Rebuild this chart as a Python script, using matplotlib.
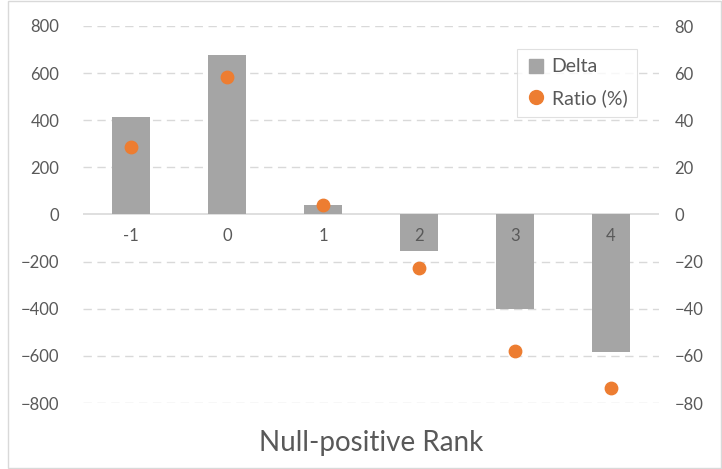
import matplotlib.pyplot as plt
from matplotlib.patches import Rectangle
from matplotlib.lines import Line2D

# data
ranks = ["-1", "0", "1", "2", "3", "4"]
delta = [412, 675, 40, -155, -400, -585]
ratio = [28.5, 58.5, 4.2, -22.9, -58.0, -73.5]

plt.rcParams["font.family"] = ["Lato", "DejaVu Sans"]
text_color = "#595959"
bar_color = "#a5a5a5"
dot_color = "#ed7d31"

fig = plt.figure(figsize=(7.22, 4.69), dpi=100)
ax = fig.add_axes([83 / 722, 1 - 403 / 469, 576 / 722, 377 / 469])
ax2 = ax.twinx()

x = list(range(len(ranks)))

# bars on the left axis
ax.bar(x, delta, width=0.4, color=bar_color, zorder=2)
ax.set_ylim(-800, 800)
ax.set_xlim(-0.5, len(ranks) - 0.5)
ax.set_yticks(range(-800, 801, 200))
for t in range(-800, 801, 200):
    if t == 0:
        ax.axhline(0, color="#d9d9d9", lw=1.2, zorder=1)
    else:
        ax.axhline(t, color="#d9d9d9", lw=1, ls=(0, (6, 4)), zorder=0)
ax.set_xticks([])
ax.tick_params(axis="y", length=0, labelsize=12, labelcolor=text_color, pad=17)
for s in ax.spines.values():
    s.set_visible(False)

# category labels sit just under the zero line
for xi, lab in zip(x, ranks):
    ax.annotate(lab, (xi, 0), xytext=(0, -10), textcoords="offset points",
                ha="center", va="top", fontsize=12, color=text_color, zorder=5)

# dots on the right axis
ax2.scatter(x, ratio, s=80, color=dot_color, zorder=3)
ax2.set_ylim(-80, 80)
ax2.set_yticks(range(-80, 81, 20))
ax2.tick_params(axis="y", length=0, labelsize=12, labelcolor=text_color, pad=11)
for s in ax2.spines.values():
    s.set_visible(False)

fig.text((83 + 659) / 2 / 722, 1 - 443 / 469, "Null-positive Rank",
         ha="center", va="center", fontsize=20, color=text_color)

# legend
handles = [Line2D([], [], marker="s", ls="", color=bar_color, markersize=10),
           Line2D([], [], marker="o", ls="", color=dot_color, markersize=10)]
leg = ax2.legend(handles, ["Delta", "Ratio (%)"], loc="upper left",
                 bbox_to_anchor=(0.753, 0.94), borderaxespad=0,
                 fontsize=14, frameon=True, fancybox=False, handletextpad=0.3,
                 handlelength=1.0, labelspacing=0.7, borderpad=0.5)
leg.get_frame().set_edgecolor("#d9d9d9")
leg.get_frame().set_linewidth(0.8)
for t in leg.get_texts():
    t.set_color(text_color)

# light outer frame like the original chart area
fig.patches.append(Rectangle((8 / 722, 0.002), 1 - 9 / 722, 0.996, transform=fig.transFigure,
                             fill=False, edgecolor="#d9d9d9", lw=1))

fig.savefig("out.png", dpi=100)
